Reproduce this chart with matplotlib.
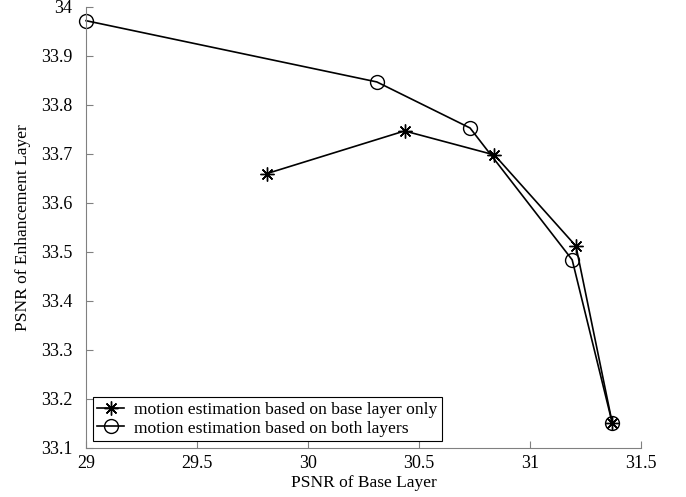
import matplotlib
matplotlib.use("Agg")
import matplotlib.pyplot as plt

plt.rcParams['font.family'] = ['Liberation Serif', 'DejaVu Serif']

# Data
base_only_x = [29.815, 30.435, 30.84, 31.207, 31.37]
base_only_y = [33.660, 33.747, 33.698, 33.512, 33.152]

both_x = [29.0, 30.31, 30.73, 31.19, 31.37]
both_y = [33.972, 33.847, 33.753, 33.484, 33.152]

xticks = [29, 29.5, 30, 30.5, 31, 31.5]
yticks = [33.1, 33.2, 33.3, 33.4, 33.5, 33.6, 33.7, 33.8, 33.9, 34]

fig = plt.figure(figsize=(6.86, 4.97), dpi=100)
ax = fig.add_axes([0.1254, 0.0986, 0.8090, 0.8874])

ax.plot(base_only_x, base_only_y, color='black', linewidth=1.2,
        marker=(8, 2, 0), markersize=10, markeredgewidth=1.0, clip_on=False,
        label='motion estimation based on base layer only')
ax.plot(both_x, both_y, color='black', linewidth=1.2,
        marker='o', markersize=10, markerfacecolor='none', markeredgewidth=1.0,
        clip_on=False, label='motion estimation based on both layers')

ax.set_xlim(29, 31.5)
ax.set_ylim(33.1, 34)
ax.set_xticks(xticks)
ax.set_xticklabels(['29', '29.5', '30', '30.5', '31', '31.5'])
ax.set_yticks(yticks)
ax.set_yticklabels(['33.1', '33.2', '33.3', '33.4', '33.5', '33.6', '33.7', '33.8', '33.9', '34'])

for side in ['top', 'right']:
    ax.spines[side].set_visible(False)
for side in ['left', 'bottom']:
    ax.spines[side].set_color('#808080')
    ax.spines[side].set_linewidth(0.8)
ax.tick_params(direction='in', length=5, color='#808080', labelsize=13)
ax.tick_params(axis='x', pad=5)
ax.tick_params(axis='y', pad=10)

ax.set_xlabel('PSNR of Base Layer', fontsize=12.5, labelpad=2)
ax.set_ylabel('PSNR of Enhancement Layer', fontsize=12.5, labelpad=7)

leg = ax.legend(loc='lower left', fontsize=12.6, fancybox=False, framealpha=1,
                edgecolor='black', borderpad=0.25, labelspacing=0.15,
                handlelength=1.5, handletextpad=0.6, borderaxespad=0.4)
leg.get_frame().set_linewidth(0.8)

fig.savefig('out.png', dpi=100)
